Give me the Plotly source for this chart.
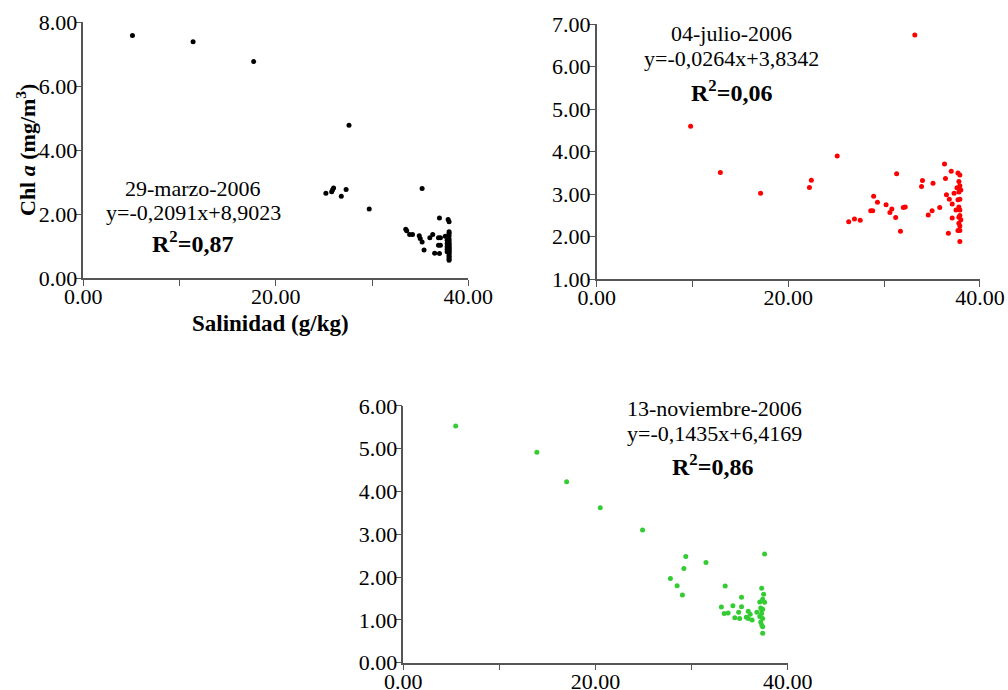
import plotly.graph_objects as go

# Panel 1: 29-marzo-2006
sal1 = [5.1, 11.4, 17.7, 27.6, 25.2, 25.8, 25.9, 26.0, 26.8, 27.3, 29.7, 35.2,
        37.0, 37.9, 38.0, 33.5, 33.6, 33.9, 34.2, 34.9, 35.0, 35.2, 35.4, 36.0,
        36.3, 36.9, 37.1, 37.6, 36.9, 37.1, 36.5, 37.0,
        38.0, 38.0, 38.0, 38.0, 38.0, 38.0, 38.0, 38.0, 38.0, 38.0, 38.0, 38.0,
        38.0, 38.0, 38.0, 38.0, 38.0, 38.0, 37.8, 37.8, 37.8, 37.8, 37.8]
chl1 = [7.59, 7.39, 6.77, 4.78, 2.65, 2.70, 2.76, 2.82, 2.56, 2.77, 2.16, 2.80,
        1.88, 1.83, 1.76, 1.53, 1.48, 1.36, 1.36, 1.32, 1.24, 1.13, 0.88, 1.26,
        1.36, 1.26, 1.26, 1.31, 1.03, 1.03, 0.78, 0.77,
        1.45, 1.40, 1.32, 1.22, 1.16, 1.10, 1.05, 1.00, 0.96, 0.92, 0.88, 0.84,
        0.80, 0.75, 0.70, 0.65, 0.60, 0.56, 1.18, 1.08, 0.98, 0.90, 0.82]

# Panel 2: 04-julio-2006
sal2 = [33.2, 9.8, 12.9, 17.1, 22.2, 22.4, 25.1, 26.3, 26.9, 27.5, 28.6, 28.8,
        28.9, 29.3, 30.2, 30.6, 30.8, 31.2, 31.3, 31.7, 32.0, 32.2, 33.9, 34.0,
        34.6, 35.0, 35.1, 35.8, 36.3, 36.4, 36.5, 36.8, 37.0, 37.1, 37.1, 36.7,
        37.3, 37.7, 37.9, 37.8, 37.9, 37.6, 38.0, 37.8, 37.7, 37.9, 37.5, 37.9,
        37.8, 37.9, 37.8, 38.0, 37.8, 37.9, 37.7, 37.9, 37.9]
chl2 = [6.74, 4.60, 3.51, 3.02, 3.16, 3.33, 3.90, 2.35, 2.42, 2.39, 2.61, 2.61,
        2.95, 2.81, 2.75, 2.57, 2.65, 2.45, 3.48, 2.13, 2.69, 2.70, 3.18, 3.32,
        2.51, 2.61, 3.26, 2.69, 3.71, 3.37, 2.99, 2.88, 3.54, 2.77, 2.44, 2.08,
        3.02, 3.50, 3.45, 3.30, 3.20, 3.15, 3.10, 3.05, 2.87, 2.88, 2.63, 2.63,
        2.70, 2.50, 2.46, 2.40, 2.32, 2.25, 2.15, 2.15, 1.89]

# Panel 3: 13-noviembre-2006
sal3 = [5.45, 13.9, 17.0, 20.5, 24.9, 27.8, 28.5, 29.05, 29.2, 29.4, 31.5, 33.5,
        33.1, 33.4, 33.8, 34.3, 34.5, 35.0, 34.9, 35.2, 35.2, 35.9, 36.1, 35.7,
        35.9, 36.3, 36.8, 37.6, 37.3, 37.5, 37.1, 37.6, 37.4, 37.3, 37.1, 37.4,
        37.2, 37.4, 37.3, 37.4, 37.3, 37.4, 37.2]
chl3 = [5.53, 4.92, 4.23, 3.62, 3.10, 1.97, 1.80, 1.58, 2.20, 2.48, 2.34, 1.79,
        1.30, 1.15, 1.16, 1.33, 1.05, 1.03, 1.18, 1.31, 1.53, 1.20, 1.13, 1.06,
        1.03, 1.00, 1.18, 2.54, 1.74, 1.60, 1.42, 1.41, 1.48, 1.23, 1.08, 1.03,
        0.95, 0.84, 0.88, 0.69, 1.15, 1.25, 1.28]

xtick_vals = [0, 10, 20, 30, 40]
xtick_text = ["0.00", "", "20.00", "", "40.00"]

SERIF = "Liberation Serif"
AXCOL = "#555555"

fig = go.Figure()
fig.add_trace(go.Scatter(x=sal1, y=chl1, mode="markers", xaxis="x", yaxis="y",
                         marker=dict(color="black", size=5), showlegend=False))
fig.add_trace(go.Scatter(x=sal2, y=chl2, mode="markers", xaxis="x2", yaxis="y2",
                         marker=dict(color="#ff0000", size=5), showlegend=False))
fig.add_trace(go.Scatter(x=sal3, y=chl3, mode="markers", xaxis="x3", yaxis="y3",
                         marker=dict(color="#33cc33", size=5), showlegend=False))

def xax(domain, anchor):
    return dict(domain=domain, anchor=anchor, range=[0, 40], tickvals=xtick_vals,
                ticktext=xtick_text, ticks="outside", ticklen=6, tickcolor=AXCOL,
                showline=True, linecolor=AXCOL, linewidth=1.5, showgrid=False,
                zeroline=False, automargin=False, ticklabelstandoff=-8,
                tickfont=dict(family=SERIF, size=22, color="black"))

def yax(domain, anchor, rng, step):
    vals = []
    v = rng[0]
    while v <= rng[1] + 1e-9:
        vals.append(v)
        v += step
    return dict(domain=domain, anchor=anchor, range=rng, tickvals=vals,
                tickformat=".2f", ticks="outside", ticklen=6, tickcolor=AXCOL,
                showline=True, linecolor=AXCOL, linewidth=1.5, showgrid=False,
                zeroline=False, automargin=False, ticklabelstandoff=-6,
                tickfont=dict(family=SERIF, size=22, color="black"))

fig.update_layout(
    width=1008, height=690, margin=dict(l=0, r=0, t=0, b=0),
    paper_bgcolor="white", plot_bgcolor="white",
    font=dict(family=SERIF, color="black"),
    xaxis=xax([0.0827, 0.4646], "y"),
    yaxis=yax([0.597, 0.9677], "x", [0, 8], 2),
    xaxis2=xax([0.592, 0.9722], "y2"),
    yaxis2=yax([0.5952, 0.9652], "x2", [1, 7], 1),
    xaxis3=xax([0.4001, 0.7814], "y3"),
    yaxis3=yax([0.0396, 0.4116], "x3", [0, 6], 1),
)

def ann(x, y, text, size=22, angle=0):
    fig.add_annotation(xref="paper", yref="paper", x=x / 1008, y=1 - y / 690,
                       text=text, showarrow=False, textangle=angle,
                       xanchor="center", yanchor="middle",
                       font=dict(family=SERIF, size=size, color="black"))

# axis titles
ann(26, 150, "<b>Chl <i>a</i> (mg/m<sup>3</sup>)</b>", size=22, angle=-90)
ann(270, 323, "<b>Salinidad (g/kg)</b>", size=23)

# panel 1 text
ann(193, 188, "29-marzo-2006")
ann(193, 212, "y=-0,2091x+8,9023")
ann(192, 242, "<b>R<sup>2</sup>=0,87</b>", size=24)

# panel 2 text
ann(731, 34, "04-julio-2006")
ann(731, 58, "y=-0,0264x+3,8342")
ann(731, 91, "<b>R<sup>2</sup>=0,06</b>", size=24)

# panel 3 text
ann(714, 408, "13-noviembre-2006")
ann(714, 433, "y=-0,1435x+6,4169")
ann(712, 465, "<b>R<sup>2</sup>=0,86</b>", size=24)

fig.write_html("out.html")
